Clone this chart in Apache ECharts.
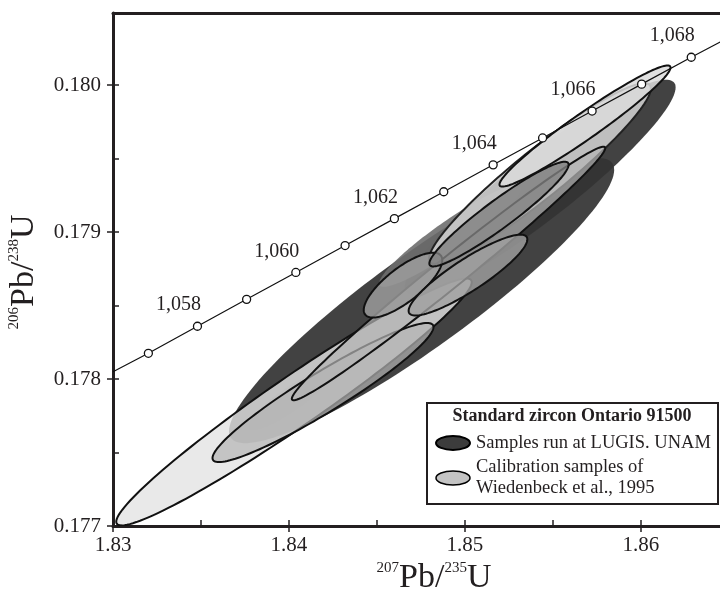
<!DOCTYPE html>
<html><head><meta charset="utf-8">
<script src="https://cdn.jsdelivr.net/npm/echarts@6/dist/echarts.min.js"></script>
<style>html,body{margin:0;padding:0;background:#fff}#c{width:720px;height:592px}</style>
</head><body><div id="c"></div>
<script>
// ---- axis ticks ----
const xMajorTicks = [1.83, 1.84, 1.85, 1.86];
const xAllTicks = [1.83, 1.835, 1.84, 1.845, 1.85, 1.855, 1.86];
const yMajorTicks = [0.177, 0.178, 0.179, 0.180];
const yAllTicks = [0.177, 0.1775, 0.178, 0.1785, 0.179, 0.1795, 0.180];

// ---- concordia (Ma markers) ----
const concAges   = [1057, 1058, 1059, 1060, 1061, 1062, 1063, 1064, 1065, 1066, 1067, 1068];
const concX      = [1.832010, 1.834799, 1.837592, 1.840388, 1.843187, 1.845988, 1.848793, 1.851600, 1.854409, 1.857222, 1.860037, 1.862855];
const concY      = [0.178175, 0.178359, 0.178542, 0.178725, 0.178908, 0.179091, 0.179274, 0.179457, 0.179640, 0.179823, 0.180006, 0.180189];
const concLabels = ['', '1,058', '', '1,060', '', '1,062', '', '1,064', '', '1,066', '', '1,068'];
const concLineStart = [1.8300, 0.178050];
const concLineEnd   = [1.8645, 0.180293];

// ---- error ellipses: centre, sigma x, sigma y, correlation (drawing order) ----
const ellKind = ['dark', 'dark', 'lightA', 'paleNoLine', 'mediumLight', 'greyNoLine', 'lightL', 'mediumLight', 'medium', 'medium', 'mediumDark', 'lightT'];
const ellCx   = [1.847534, 1.854273, 1.840284, 1.840057, 1.841932, 1.849148, 1.854261, 1.849063, 1.846477, 1.850170, 1.851932, 1.856818];
const ellCy   = [0.178534, 0.179304, 0.177844, 0.177857, 0.177908, 0.178973, 0.179398, 0.178718, 0.178639, 0.178707, 0.179122, 0.179721];
const ellSx   = [0.010942, 0.007694, 0.010100, 0.002360, 0.006278, 0.004032, 0.006301, 0.008903, 0.002230, 0.003372, 0.003957, 0.004859];
const ellSy   = [0.0009705, 0.0007323, 0.000840, 0.000206, 0.000473, 0.0003458, 0.0006143, 0.0008624, 0.0002207, 0.000275, 0.000356, 0.000412];
const ellRho  = [0.9156, 0.9279, 0.9697, 0.8792, 0.9418, 0.9339, 0.9412, 0.9884, 0.7676, 0.8843, 0.9439, 0.9654];

const INK = '#231f20';
const SERIF = "'Liberation Serif', 'Times New Roman', serif";
const kindStyle = {
  dark:        {fill: 'rgba(52,52,52,0.93)',   stroke: null},
  lightA:      {fill: 'rgba(228,228,228,0.80)', stroke: '#111'},
  paleNoLine:  {fill: 'rgba(190,190,190,0.65)', stroke: null},
  mediumLight: {fill: 'rgba(180,180,180,0.70)', stroke: '#111'},
  greyNoLine:  {fill: 'rgba(110,110,110,0.90)', stroke: null},
  lightL:      {fill: 'rgba(205,205,205,0.90)', stroke: '#222'},
  medium:      {fill: 'rgba(160,160,160,0.80)', stroke: '#111'},
  mediumDark:  {fill: 'rgba(128,128,128,0.80)', stroke: '#111'},
  lightT:      {fill: 'rgba(218,218,218,0.85)', stroke: '#111'}
};

const chart = echarts.init(document.getElementById('c'), null, {renderer: 'canvas'});

const ellData = ellCx.map((c, i) => [c, ellCy[i], ellSx[i], ellSy[i], ellRho[i], i]);
const concLine = [concLineStart].concat(concX.map((x, i) => [x, concY[i]])).concat([concLineEnd]);
const concPts = concX.map((x, i) => ({value: [x, concY[i]], label: {show: concLabels[i] !== '', formatter: concLabels[i]}}));

const axisFont = {fontFamily: SERIF, fontSize: 21, color: INK};

chart.setOption({
  animation: false,
  backgroundColor: '#fff',
  grid: {left: 113, top: 13, right: 0, bottom: 66, containLabel: false},
  xAxis: [
    {type: 'value', min: 1.83, max: 1.864489, interval: 0.005, position: 'bottom',
     axisLine: {show: true, lineStyle: {color: INK, width: 3}},
     axisTick: {show: true, inside: true, length: 6, customValues: xAllTicks, lineStyle: {color: INK, width: 1.5}},
     axisLabel: {show: false}, splitLine: {show: false}},
    {type: 'value', min: 1.83, max: 1.864489, interval: 0.01, position: 'bottom',
     axisLine: {show: false},
     axisTick: {show: true, inside: false, length: 6, customValues: xMajorTicks, lineStyle: {color: INK, width: 1.5}},
     axisLabel: Object.assign({show: true, margin: 9, customValues: xMajorTicks, formatter: v => v.toFixed(2)}, axisFont),
     splitLine: {show: false}},
    {type: 'value', min: 1.83, max: 1.864489, position: 'top',
     axisLine: {show: true, lineStyle: {color: INK, width: 3}},
     axisTick: {show: false}, axisLabel: {show: false}, splitLine: {show: false}}
  ],
  yAxis: [
    {type: 'value', min: 0.177, max: 0.18049, interval: 0.0005, position: 'left',
     axisLine: {show: true, lineStyle: {color: INK, width: 3}},
     axisTick: {show: true, inside: true, length: 6, customValues: yAllTicks, lineStyle: {color: INK, width: 1.5}},
     axisLabel: {show: false}, splitLine: {show: false}},
    {type: 'value', min: 0.177, max: 0.18049, interval: 0.001, position: 'left',
     axisLine: {show: false},
     axisTick: {show: true, inside: false, length: 6, customValues: yMajorTicks, lineStyle: {color: INK, width: 1.5}},
     axisLabel: Object.assign({show: true, margin: 12, customValues: yMajorTicks, formatter: v => v.toFixed(3)}, axisFont),
     splitLine: {show: false}}
  ],
  series: [
    {type: 'custom', xAxisIndex: 0, yAxisIndex: 0, clip: true, z: 2,
     data: ellData, encode: {x: 0, y: 1},
     renderItem: function (params, api) {
       const cx = api.value(0), cy = api.value(1), sx = api.value(2), sy = api.value(3), r = api.value(4);
       const idx = api.value(5);
       const k = Math.sqrt(1 - r * r);
       const pts = [];
       for (let j = 0; j < 144; j++) {
         const t = j / 144 * Math.PI * 2;
         pts.push(api.coord([cx + sx * Math.cos(t), cy + sy * (r * Math.cos(t) + k * Math.sin(t))]));
       }
       const st = kindStyle[ellKind[idx]];
       return {type: 'polygon', shape: {points: pts},
               style: {fill: st.fill, stroke: st.stroke || 'none', lineWidth: st.stroke ? 2 : 0}};
     }},
    {type: 'line', xAxisIndex: 0, yAxisIndex: 0, data: concLine, showSymbol: false, symbol: 'none',
     lineStyle: {color: '#111', width: 1.2}, z: 5, silent: true},
    {type: 'scatter', xAxisIndex: 0, yAxisIndex: 0, data: concPts, symbol: 'circle', symbolSize: 8,
     itemStyle: {color: '#fff', borderColor: '#111', borderWidth: 1.3, opacity: 1}, z: 6,
     label: {show: true, position: 'inside', offset: [-19, -21], fontFamily: SERIF, fontSize: 20, color: INK}}
  ],
  graphic: [
    {type: 'text', x: 434, y: 578, z: 10,
     style: {text: '{s|207}{m|Pb/}{s|235}{m|U}', align: 'center', verticalAlign: 'middle',
       rich: {s: {fontFamily: SERIF, fontSize: 15, verticalAlign: 'top', fill: INK, padding: [0, 0, 14, 0]},
              m: {fontFamily: SERIF, fontSize: 34, fill: INK}}}},
    {type: 'text', x: 24, y: 272, rotation: Math.PI / 2, z: 10,
     style: {text: '{s|206}{m|Pb/}{s|238}{m|U}', align: 'center', verticalAlign: 'middle',
       rich: {s: {fontFamily: SERIF, fontSize: 15, verticalAlign: 'top', fill: INK, padding: [0, 0, 14, 0]},
              m: {fontFamily: SERIF, fontSize: 34, fill: INK}}}},
    {type: 'rect', shape: {x: 427, y: 403, width: 291, height: 101}, z: 20,
     style: {fill: '#fff', stroke: INK, lineWidth: 2}},
    {type: 'text', x: 572, y: 416, z: 21,
     style: {text: 'Standard zircon Ontario 91500', align: 'center', verticalAlign: 'middle',
       fontFamily: SERIF, fontWeight: 'bold', fontSize: 18, fill: INK}},
    {type: 'ellipse', shape: {cx: 453, cy: 443, rx: 17, ry: 7}, z: 21,
     style: {fill: '#3c3c3c', stroke: '#000', lineWidth: 2}},
    {type: 'text', x: 476, y: 443, z: 21,
     style: {text: 'Samples run at LUGIS. UNAM', align: 'left', verticalAlign: 'middle',
       fontFamily: SERIF, fontSize: 18.5, fill: INK}},
    {type: 'ellipse', shape: {cx: 453, cy: 478, rx: 17, ry: 7}, z: 21,
     style: {fill: '#c4c4c4', stroke: '#000', lineWidth: 1.5}},
    {type: 'text', x: 476, y: 467, z: 21,
     style: {text: 'Calibration samples of', align: 'left', verticalAlign: 'middle',
       fontFamily: SERIF, fontSize: 18.5, fill: INK}},
    {type: 'text', x: 476, y: 488, z: 21,
     style: {text: 'Wiedenbeck et al., 1995', align: 'left', verticalAlign: 'middle',
       fontFamily: SERIF, fontSize: 18.5, fill: INK}}
  ]
});
</script></body></html>
